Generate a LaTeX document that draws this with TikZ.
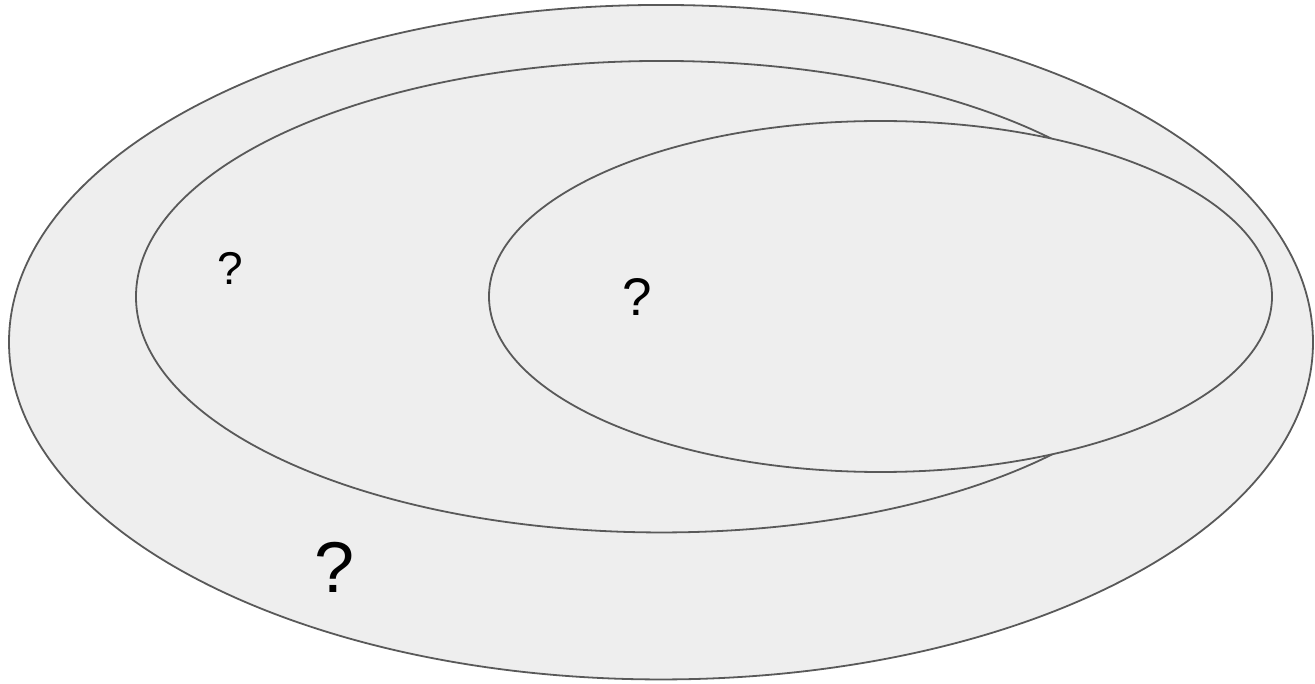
\documentclass[tikz,border=0pt]{standalone}
\usepackage{fontspec}
\setmainfont{Liberation Sans}
\usetikzlibrary{shapes.geometric}
\definecolor{setfill}{HTML}{EEEEEE}
\definecolor{setline}{HTML}{595959}
\tikzset{
  setshape/.style={ellipse, draw=setline, fill=setfill, line width=1.8pt, inner sep=0pt, outer sep=0pt},
  qmark/.style={inner sep=0pt, text=black}
}
\begin{document}
\begin{tikzpicture}[x=1pt,y=-1pt]
\useasboundingbox (0,0) rectangle (1315,684);
\node[setshape, minimum width=1304pt, minimum height=674.5pt] (outer) at (661,342.2) {};
\node[setshape, minimum width=1051pt, minimum height=471.5pt] (middle) at (661.5,296.7) {};
\node[setshape, minimum width=783pt, minimum height=351pt] (inner) at (880.5,296.5) {};
\node[qmark, font=\fontsize{46}{50}\selectfont] (q1) at (230,268) {?};
\node[qmark, font=\fontsize{53}{58}\selectfont] (q2) at (637.5,297) {?};
\node[qmark, font=\fontsize{72}{78}\selectfont] (q3) at (335,567) {?};
\end{tikzpicture}
\end{document}
